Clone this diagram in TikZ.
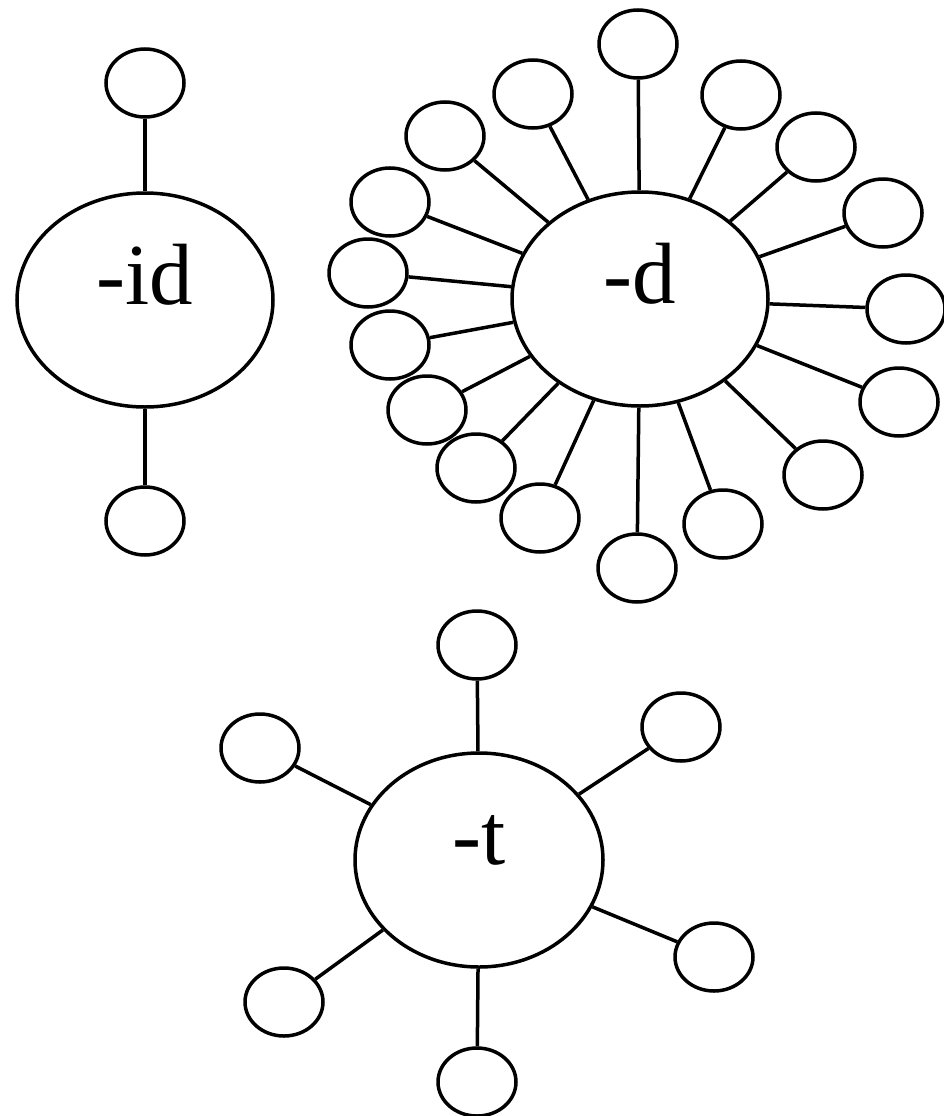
\documentclass[tikz,border=0pt]{standalone}
\usepackage{fontspec}
\setmainfont{Liberation Serif}
\usetikzlibrary{shapes.geometric}
\begin{document}
\begin{tikzpicture}[x=1pt,y=-1pt,
  bigell/.style={ellipse, draw, line width=3.5pt, inner sep=0pt,
    minimum width=256pt, minimum height=214pt,
    font=\fontsize{87}{100}\selectfont, text height=8pt, text depth=0pt},
  smallell/.style={ellipse, draw, line width=3.5pt, inner sep=0pt,
    minimum width=78pt, minimum height=68pt},
  spoke/.style={line width=3.5pt}]
\useasboundingbox (0,0) rectangle (943,1116);

% -id
\node[bigell] (id) at (145,300) {-id};
\node[smallell] (id1) at (145,83) {};
\node[smallell] (id2) at (145,521) {};
\draw[spoke] (id1) -- (id);
\draw[spoke] (id) -- (id2);

% -d
\node[bigell] (d) at (640,299) {-d};
\foreach \i/\x/\y in {1/638/44, 2/741/95, 3/816/147, 4/883/213, 5/906/309,
  6/899/402, 7/823/475, 8/723/524, 9/637/568, 10/540/518, 11/476/468,
  12/427/410, 13/390/345, 14/368/273, 15/390/202, 16/445/136, 17/533/94}
{
  \node[smallell] (d\i) at (\x,\y) {};
  \draw[spoke] (d\i) -- (d);
}

% -t
\node[bigell, minimum width=248pt] (t) at (479,860) {-t};
\foreach \i/\x/\y in {1/477/645, 2/681/727, 3/714/957, 4/477/1082,
  5/284/1002, 6/260/748}
{
  \node[smallell] (t\i) at (\x,\y) {};
  \draw[spoke] (t\i) -- (t);
}
\end{tikzpicture}
\end{document}
